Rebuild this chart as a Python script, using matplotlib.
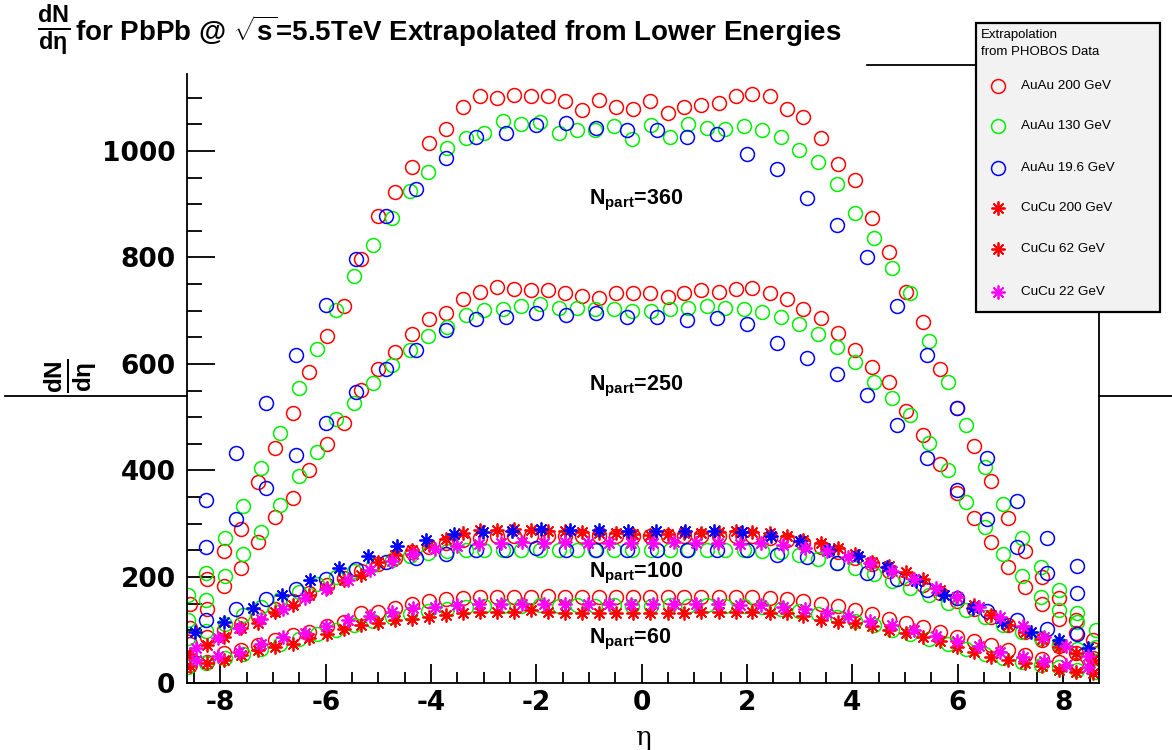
import matplotlib
matplotlib.use("Agg")
import matplotlib.pyplot as plt
from matplotlib.patches import Rectangle
from matplotlib.ticker import MultipleLocator

plt.rcParams["mathtext.fontset"] = "custom"
plt.rcParams["mathtext.rm"] = "Liberation Sans:bold"
plt.rcParams["mathtext.it"] = "Liberation Sans:bold"
plt.rcParams["mathtext.bf"] = "Liberation Sans:bold"
plt.rcParams["axes.unicode_minus"] = False

# eta bin centres after scaling each energy to the 5.5 TeV beam rapidity
ETA_200 = [-8.57, -8.25, -7.93, -7.60, -7.28, -6.96, -6.63, -6.31, -5.98, -5.66,
           -5.34, -5.01, -4.69, -4.37, -4.04, -3.72, -3.40, -3.07, -2.75, -2.43,
           -2.10, -1.78, -1.46, -1.13, -0.81, -0.49, -0.16, 0.16, 0.49, 0.81,
           1.13, 1.46, 1.78, 2.10, 2.43, 2.75, 3.07, 3.40, 3.72, 4.04,
           4.37, 4.69, 5.01, 5.34, 5.66, 5.98, 6.31, 6.63, 6.96, 7.28,
           7.60, 7.93, 8.25, 8.57]
ETA_130 = [-8.62, -8.27, -7.92, -7.57, -7.22, -6.86, -6.51, -6.16, -5.81, -5.46,
           -5.10, -4.75, -4.40, -4.05, -3.70, -3.34, -2.99, -2.64, -2.29, -1.94,
           -1.58, -1.23, -0.88, -0.53, -0.18, 0.18, 0.53, 0.88, 1.23, 1.58,
           1.94, 2.29, 2.64, 2.99, 3.34, 3.70, 4.05, 4.40, 4.75, 5.10,
           5.46, 5.81, 6.16, 6.51, 6.86, 7.22, 7.57, 7.92, 8.27, 8.62]
ETA_19 = [-8.27, -7.70, -7.13, -6.56, -5.99, -5.42, -4.85, -4.28, -3.71, -3.14,
          -2.57, -2.00, -1.43, -0.86, -0.29, 0.29, 0.86, 1.43, 2.00, 2.57,
          3.14, 3.71, 4.28, 4.85, 5.42, 5.99, 6.56, 7.13, 7.70, 8.27]
ETA_62 = [-8.47, -8.05, -7.64, -7.23, -6.81, -6.40, -5.99, -5.58, -5.16, -4.75,
          -4.34, -3.92, -3.51, -3.10, -2.68, -2.27, -1.86, -1.45, -1.03, -0.62,
          -0.21, 0.21, 0.62, 1.03, 1.45, 1.86, 2.27, 2.68, 3.10, 3.51,
          3.92, 4.34, 4.75, 5.16, 5.58, 5.99, 6.40, 6.81, 7.23, 7.64,
          8.05, 8.47]
ETA_22 = [-8.48, -7.93, -7.38, -6.84, -6.29, -5.74, -5.20, -4.65, -4.10, -3.56,
          -3.01, -2.46, -1.91, -1.37, -0.82, -0.27, 0.27, 0.82, 1.37, 1.91,
          2.46, 3.01, 3.56, 4.10, 4.65, 5.20, 5.74, 6.29, 6.84, 7.38,
          7.93, 8.48]

# AuAu 200 GeV
auau200_360 = [150, 197, 249, 291, 379, 443, 508, 584, 653, 709,
               797, 877, 922, 969, 1014, 1041, 1083, 1104, 1099, 1105,
               1103, 1103, 1093, 1076, 1096, 1083, 1079, 1093, 1071, 1083,
               1086, 1090, 1103, 1106, 1103, 1079, 1063, 1024, 975, 946,
               874, 811, 736, 679, 591, 517, 445, 381, 310, 248,
               200, 160, 119, 82]
auau200_250 = [105, 140, 183, 216, 266, 313, 348, 401, 449, 489,
               551, 590, 623, 656, 684, 696, 722, 735, 744, 741,
               739, 738, 733, 728, 723, 733, 733, 733, 726, 733,
               738, 736, 740, 742, 733, 722, 703, 687, 658, 626,
               595, 566, 512, 467, 412, 358, 311, 266, 219, 181,
               149, 122, 94, 65]
auau200_100 = [75, 88, 100, 112, 127, 140, 155, 170, 185, 198,
               212, 224, 236, 247, 256, 264, 270, 274, 276, 277,
               277, 277, 276, 276, 276, 276, 276, 276, 276, 277,
               277, 277, 277, 276, 274, 270, 264, 256, 247, 236,
               224, 212, 198, 185, 170, 155, 140, 125, 110, 96,
               82, 70, 58, 48]
auau200_60 = [35, 41, 57, 63, 72, 82, 91, 97, 107, 116,
              132, 135, 141, 149, 154, 158, 160, 163, 163, 163,
              162, 164, 162, 163, 162, 163, 163, 162, 163, 162,
              163, 162, 163, 162, 160, 158, 155, 150, 145, 138,
              130, 122, 114, 106, 97, 88, 80, 72, 62, 53,
              46, 40, 35, 30]

# AuAu 130 GeV
auau130_360 = [166, 208, 273, 333, 404, 470, 554, 628, 701, 765,
               823, 874, 925, 961, 1005, 1024, 1034, 1057, 1051, 1055,
               1034, 1039, 1039, 1047, 1022, 1048, 1026, 1050, 1044, 1041,
               1047, 1039, 1027, 1001, 979, 938, 883, 837, 781, 733,
               643, 567, 485, 407, 337, 274, 219, 176, 132, 100]
auau130_250 = [120, 156, 201, 243, 285, 335, 390, 435, 496, 526,
               564, 598, 627, 653, 670, 692, 701, 704, 709, 713,
               706, 706, 704, 703, 700, 700, 703, 706, 709, 706,
               703, 697, 688, 675, 656, 631, 604, 567, 536, 504,
               451, 400, 341, 293, 243, 202, 163, 138, 116, 69]
auau130_100 = [85, 98, 112, 128, 143, 158, 172, 186, 200, 212,
               222, 232, 240, 245, 248, 250, 250, 251, 250, 251,
               250, 251, 250, 251, 250, 250, 251, 250, 251, 250,
               251, 249, 246, 241, 234, 226, 216, 205, 193, 180,
               166, 152, 138, 124, 110, 97, 85, 74, 64, 56]
auau130_60 = [30, 38, 47, 56, 65, 74, 83, 92, 101, 110,
              118, 125, 131, 136, 140, 143, 145, 146, 146, 147,
              146, 147, 146, 147, 146, 146, 147, 146, 147, 146,
              145, 143, 140, 136, 131, 125, 118, 110, 101, 92,
              83, 74, 65, 56, 48, 41, 35, 30, 25, 22]

# AuAu 19.6 GeV
auau19_360 = [345, 433, 526, 617, 711, 797, 877, 929, 987, 1027,
              1034, 1048, 1052, 1043, 1039, 1039, 1027, 1032, 994, 966,
              912, 860, 800, 709, 617, 518, 424, 343, 274, 221]
auau19_250 = [257, 308, 368, 429, 489, 548, 590, 627, 664, 684,
              689, 695, 692, 696, 689, 688, 683, 686, 675, 639,
              611, 581, 542, 485, 424, 363, 309, 257, 207, 169]
auau19_100 = [120, 139, 158, 177, 196, 215, 229, 236, 243, 250,
              251, 254, 251, 251, 251, 251, 251, 250, 251, 241,
              237, 226, 207, 196, 176, 160, 137, 119, 103, 92]

# CuCu
cucu200_100 = [55, 72, 88, 104, 113, 135, 147, 166, 180, 194,
               204, 229, 241, 251, 260, 271, 282, 288, 288, 290,
               288, 287, 287, 285, 282, 282, 280, 279, 280, 282,
               283, 285, 286, 284, 283, 276, 269, 263, 254, 244,
               229, 221, 210, 196, 176, 163, 147, 129, 110, 97,
               83, 69, 57, 44]
cucu200_60 = [32, 39, 44, 54, 63, 69, 75, 85, 93, 102,
              110, 113, 119, 122, 125, 129, 133, 135, 135, 135,
              138, 135, 132, 132, 132, 132, 132, 132, 132, 133,
              134, 135, 134, 134, 133, 132, 126, 119, 116, 113,
              107, 100, 94, 88, 79, 69, 60, 50, 44, 39,
              33, 26, 22, 20]
cucu62_100 = [66, 85, 104, 122, 140, 160, 178, 195, 214, 230,
              243, 252, 258, 262, 264, 265, 264, 265, 263, 264,
              263, 264, 265, 263, 264, 262, 263, 260, 255, 248,
              238, 226, 212, 197, 180, 162, 144, 125, 107, 88,
              70, 52]
cucu62_60 = [45, 52, 60, 75, 88, 95, 107, 119, 127, 135,
             141, 144, 147, 149, 150, 150, 149, 150, 149, 150,
             149, 150, 149, 150, 149, 148, 147, 144, 140, 133,
             127, 118, 110, 100, 90, 80, 70, 60, 50, 42,
             35, 30]
cucu22_100 = [97, 116, 141, 166, 194, 216, 239, 259, 270, 281,
              285, 287, 291, 288, 288, 287, 287, 287, 287, 284,
              276, 268, 251, 239, 219, 193, 166, 141, 116, 97,
              81, 66]

npart_labels = ["360", "250", "100", "60"]
npart_label_y = [900, 550, 200, 75]

legend_names = ["AuAu 200 GeV", "AuAu 130 GeV", "AuAu 19.6 GeV",
                "CuCu 200 GeV", "CuCu 62 GeV", "CuCu 22 GeV"]

RED, GREEN, BLUE, MAGENTA = "#ff0000", "#00ee00", "#0000ff", "#ff00ff"
STAR = (8, 2, 0)

fig = plt.figure(figsize=(11.72, 7.5), dpi=100)
ax = fig.add_axes([0.1593, 0.0887, 0.7784, 0.8123])


def circles(x, y, c):
    ax.plot(x, y, ls="none", marker="o", ms=10, mfc="none", mec=c, mew=1.1)


def stars(x, y, c):
    ax.plot(x, y, ls="none", marker=STAR, ms=10, mec=c, mew=1.3)


for ys in (auau200_360, auau200_250, auau200_100, auau200_60):
    circles(ETA_200, ys, RED)
for ys in (auau130_360, auau130_250, auau130_100, auau130_60):
    circles(ETA_130, ys, GREEN)
for ys in (auau19_360, auau19_250, auau19_100):
    circles(ETA_19, ys, BLUE)
stars(ETA_200, cucu200_100, RED)
stars(ETA_200, cucu200_60, RED)
stars(ETA_22, cucu22_100, BLUE)
stars(ETA_62, cucu62_100, MAGENTA)
stars(ETA_62, cucu62_60, MAGENTA)

for lab, yl in zip(npart_labels, npart_label_y):
    ax.text(-1.0, yl, r"N$_{\mathbf{part}}$=" + lab, fontsize=15.5,
            fontweight="bold", family="Liberation Sans", va="baseline")

ax.set_xlim(-8.64, 8.68)
ax.set_ylim(0, 1144)
ax.xaxis.set_major_locator(MultipleLocator(2))
ax.xaxis.set_minor_locator(MultipleLocator(0.5))
ax.yaxis.set_major_locator(MultipleLocator(200))
ax.yaxis.set_minor_locator(MultipleLocator(50))
ax.spines["top"].set_visible(False)
for s in ("left", "bottom", "right"):
    ax.spines[s].set_linewidth(1.3)
ax.tick_params(which="both", direction="in", top=False, right=False, width=1.3)
ax.tick_params(which="major", axis="x", length=14, pad=5)
ax.tick_params(which="minor", axis="x", length=8)
ax.tick_params(which="major", axis="y", length=20, pad=8)
ax.tick_params(which="minor", axis="y", length=11)
for lbl in ax.get_xticklabels() + ax.get_yticklabels():
    lbl.set_fontsize(19)
    lbl.set_fontweight("bold")
ax.set_xlabel("η", fontsize=19, family="DejaVu Serif", labelpad=6)

# overlay in pixel units for the title, legend box and stray frame lines
ov = fig.add_axes([0, 0, 1, 1], zorder=5)
ov.set_xlim(0, 1172)
ov.set_ylim(750, 0)
ov.axis("off")

ov.text(54, 30, r"$\frac{dN}{d\eta}$", fontsize=24, ha="center", va="center")
ov.text(75, 31, r"for PbPb @ $\sqrt{s}$=5.5TeV Extrapolated from Lower Energies",
        fontsize=20, fontweight="bold", family="Liberation Sans", va="center", ha="left")
ov.text(71, 376, r"$\frac{dN}{d\eta}$", fontsize=25, rotation=90, va="center", ha="center")

for xs, ys in (([5, 186.7], [396, 396]), ([1099, 1172], [396, 396]), ([867, 976], [65, 65])):
    ov.plot(xs, ys, color="black", lw=1.3)

ov.add_patch(Rectangle((976, 23), 184, 289, facecolor="#f2f2f2", edgecolor="black", lw=1.6))
ov.text(981, 35, "Extrapolation", fontsize=9.5, family="Liberation Sans", va="center")
ov.text(981, 52, "from PHOBOS Data", fontsize=9.5, family="Liberation Sans", va="center")
legend_y = [86, 126, 168, 208, 249, 292]
legend_style = [("o", RED), ("o", GREEN), ("o", BLUE), (STAR, RED), (STAR, RED), (STAR, MAGENTA)]
for name, ly, (mk, c) in zip(legend_names, legend_y, legend_style):
    if mk == "o":
        ov.plot([998], [ly], marker="o", ms=10, mfc="none", mec=c, mew=1.1)
    else:
        ov.plot([998], [ly], marker=mk, ms=10, mec=c, mew=1.3)
    ov.text(1021, ly, name, fontsize=9.7, family="Liberation Sans", va="center")

fig.savefig("out.png", dpi=100)
